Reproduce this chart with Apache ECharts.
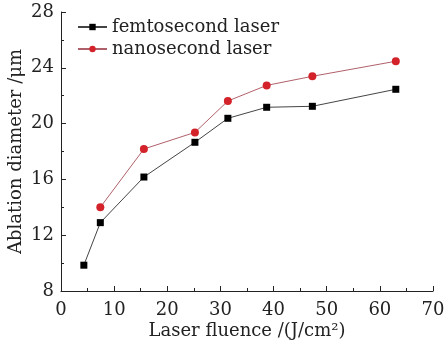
<!DOCTYPE html>
<html><head><meta charset="utf-8">
<script src="https://cdn.jsdelivr.net/npm/echarts@6/dist/echarts.min.js"></script>
<style>html,body{margin:0;padding:0;background:#fff}#c{width:445px;height:344px}</style>
</head><body><div id="c"></div>
<script>
const seriesNames = ["femtosecond laser", "nanosecond laser"];
const femtoX = [4.3, 7.4, 15.6, 25.2, 31.4, 38.7, 47.3, 63.0];
const femtoY = [9.85, 12.9, 16.17, 18.66, 20.38, 21.17, 21.24, 22.46];
const nanoX = [7.4, 15.6, 25.2, 31.4, 38.7, 47.3, 63.0];
const nanoY = [14.0, 18.18, 19.37, 21.62, 22.74, 23.39, 24.47];
const xName = "Laser fluence /(J/cm²)";
const yName = "Ablation diameter /μm";

const font = 'DejaVu Serif';
const chart = echarts.init(document.getElementById('c'));
const axisCommon = {
  axisLine: {show: true, lineStyle: {color: '#222', width: 1}},
  axisTick: {show: true, inside: true, length: 5, lineStyle: {color: '#222'}},
  minorTick: {show: true, splitNumber: 2, length: 3, lineStyle: {color: '#222'}},
  splitLine: {show: false},
  axisLabel: {color: '#222', fontFamily: font, fontSize: 18},
  nameTextStyle: {color: '#222', fontFamily: font, fontSize: 18},
  nameMoveOverlap: false
};
chart.setOption({
  animation: false,
  textStyle: {fontFamily: font},
  grid: {left: 61, right: 12, top: 12, bottom: 53, containLabel: false, outerBoundsMode: 'none'},
  legend: {
    orient: 'vertical', left: 77, top: 18, padding: 0, itemWidth: 29, itemHeight: 8, itemGap: 4,
    textStyle: {fontFamily: font, fontSize: 18, color: '#222'},
    data: seriesNames
  },
  xAxis: Object.assign({}, axisCommon, {
    type: 'value', min: 0, max: 70, interval: 10,
    name: xName, nameLocation: 'middle', nameGap: 31,
    axisLabel: Object.assign({}, axisCommon.axisLabel, {margin: 10})
  }),
  yAxis: Object.assign({}, axisCommon, {
    type: 'value', min: 8, max: 28, interval: 4,
    name: yName, nameLocation: 'middle', nameGap: 36,
    axisLabel: Object.assign({}, axisCommon.axisLabel, {margin: 7})
  }),
  series: [
    {
      name: seriesNames[0], type: 'line',
      data: femtoX.map((x, i) => [x, femtoY[i]]),
      symbol: 'rect', symbolSize: 7,
      itemStyle: {color: '#000'},
      lineStyle: {color: '#444', width: 1}
    },
    {
      name: seriesNames[1], type: 'line',
      data: nanoX.map((x, i) => [x, nanoY[i]]),
      symbol: 'circle', symbolSize: 8,
      itemStyle: {color: '#d3222a'},
      lineStyle: {color: '#b0606a', width: 1}
    }
  ]
});
</script></body></html>
